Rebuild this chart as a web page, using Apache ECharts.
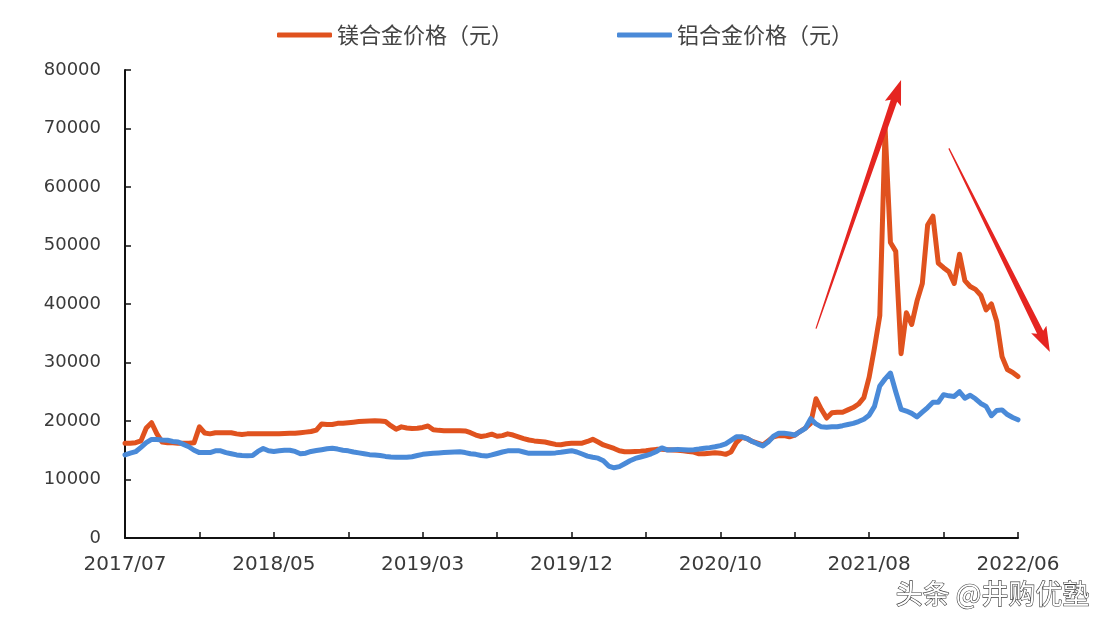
<!DOCTYPE html>
<html>
<head>
<meta charset="utf-8">
<script src="https://cdn.jsdelivr.net/npm/echarts@6/dist/echarts.min.js"></script>
<style>
html,body{margin:0;padding:0;background:#fff;}
#chart{width:1108px;height:624px;}
</style>
</head>
<body>
<div id="chart"></div>
<script>
// Tick labels shown on the x axis (every 28th point; ticks every 14th point)
const tickLabels = ['2017/07','2018/05','2019/03','2019/12','2020/10','2021/08','2022/06'];

// 镁合金价格（元）
const mgPrice = [
16200,16200,16300,16600,18800,19700,17800,16400,16300,16300,
16200,16200,16200,16300,19000,17950,17800,18000,18000,18000,
18000,17800,17700,17800,17800,17800,17800,17800,17800,17800,
17850,17900,17900,18000,18100,18200,18450,19500,19400,19400,
19600,19600,19700,19800,19900,19950,20000,20050,20000,19900,
19200,18600,19000,18800,18700,18750,18900,19150,18500,18400,
18350,18350,18350,18350,18300,18000,17600,17350,17500,17750,
17400,17500,17800,17600,17300,17000,16750,16600,16500,16400,
16200,16000,15950,16100,16180,16200,16200,16500,16870,16400,
15900,15600,15300,14900,14750,14750,14800,14850,14930,15050,
15150,15150,15100,15050,15000,14900,14800,14700,14400,14400,
14500,14580,14500,14300,14700,16300,17200,17000,16500,16200,
15900,16600,17300,17500,17500,17300,17600,18200,18800,19600,
23800,22000,20500,21400,21500,21500,21900,22300,22900,24000,
27500,32500,38000,70000,50500,49000,31500,38500,36500,40500,
43500,53500,55000,47000,46200,45500,43500,48500,44000,43000,
42500,41500,39000,40000,37000,31000,28800,28300,27600
];

// 铝合金价格（元）
const alPrice = [
14200,14500,14750,15500,16300,16850,16850,16750,16700,16500,
16400,16000,15600,15000,14600,14600,14600,14900,14900,14600,
14400,14200,14100,14050,14100,14800,15300,14900,14800,14900,
15000,15000,14800,14400,14500,14800,14950,15100,15250,15330,
15200,15000,14900,14700,14550,14400,14250,14200,14100,13950,
13850,13800,13800,13800,13900,14100,14300,14400,14500,14550,
14600,14650,14700,14750,14600,14400,14300,14100,14000,14200,
14450,14700,14900,14900,14930,14700,14470,14470,14470,14500,
14500,14550,14650,14800,14930,14700,14360,14000,13800,13650,
13200,12300,12000,12200,12700,13200,13600,13850,14100,14400,
14800,15400,15050,15100,15150,15100,15050,15100,15200,15330,
15450,15600,15800,16100,16700,17300,17320,17000,16500,16100,
15750,16400,17400,17900,17900,17800,17600,18200,18750,20400,
19500,19000,18920,19000,19030,19200,19400,19600,19900,20300,
21000,22500,26000,27200,28200,25000,22000,21700,21300,20700,
21500,22300,23200,23200,24500,24300,24200,25000,23900,24400,
23800,23000,22500,20900,21800,21900,21100,20600,20200
];

const seriesNames = ['镁合金价格（元）', '铝合金价格（元）'];
const yTicks = { min: 0, max: 80000, interval: 10000 };

// Annotation arrows in data coordinates [category index, value]
const arrowUp = [[129.5, 35800], [145.8, 78300]];
const arrowDown = [[154.6, 66600], [174.0, 31800]];

const pointsPerLabel = 28;
const pointsPerTick = 14;
const categories = mgPrice.map((_, i) =>
  i % pointsPerLabel === 0 ? tickLabels[i / pointsPerLabel] : 'p' + i);

const chart = echarts.init(document.getElementById('chart'), null, { renderer: 'canvas' });

const axisFont = 'DejaVu Sans';
const legendText = { fontFamily: 'Noto Sans CJK SC', fontSize: 22, color: '#444444' };
const option = {
  backgroundColor: '#ffffff',
  animation: false,
  grid: { left: 125, right: 90, top: 70, bottom: 86 },
  legend: [
    {
      data: [seriesNames[0]], left: 277, top: 24, padding: 0,
      itemWidth: 55, itemHeight: 5, icon: 'roundRect', itemGap: 5,
      textStyle: legendText
    },
    {
      data: [seriesNames[1]], left: 617, top: 24, padding: 0,
      itemWidth: 55, itemHeight: 5, icon: 'roundRect', itemGap: 5,
      textStyle: legendText
    }
  ],
  xAxis: {
    type: 'category',
    data: categories,
    boundaryGap: false,
    axisLine: { lineStyle: { color: '#111', width: 2 } },
    axisTick: { inside: true, length: 6, interval: (i) => i % pointsPerTick === 0, lineStyle: { color: '#111', width: 1.5 } },
    axisLabel: {
      interval: (i) => i % pointsPerLabel === 0,
      margin: 17, color: '#3a3a3a', fontFamily: axisFont, fontSize: 20
    },
    splitLine: { show: false }
  },
  yAxis: {
    type: 'value',
    min: yTicks.min, max: yTicks.max, interval: yTicks.interval,
    axisLine: { show: true, lineStyle: { color: '#111', width: 2 } },
    axisTick: { show: true, inside: true, length: 6, lineStyle: { color: '#111', width: 1.5 } },
    axisLabel: { margin: 24, color: '#3a3a3a', fontFamily: axisFont, fontSize: 18,
                 formatter: (v) => String(v) },
    splitLine: { show: false }
  },
  series: [
    {
      name: seriesNames[0], type: 'line', data: mgPrice,
      symbol: 'none', smooth: false,
      lineStyle: { color: '#E0521E', width: 5, join: 'round', cap: 'round' },
      itemStyle: { color: '#E0521E' }
    },
    {
      name: seriesNames[1], type: 'line', data: alPrice,
      symbol: 'none', smooth: false,
      lineStyle: { color: '#4A8AD8', width: 5, join: 'round', cap: 'round' },
      itemStyle: { color: '#4A8AD8' }
    }
  ]
};
chart.setOption(option);

function arrowPolygon(a, b, w0, w1, headLen, headHalf) {
  const p0 = chart.convertToPixel({ gridIndex: 0 }, a);
  const p1 = chart.convertToPixel({ gridIndex: 0 }, b);
  const dx = p1[0] - p0[0], dy = p1[1] - p0[1];
  const len = Math.hypot(dx, dy);
  const ux = dx / len, uy = dy / len;
  const nx = -uy, ny = ux;
  const bx = p1[0] - ux * headLen, by = p1[1] - uy * headLen;
  return [
    [p0[0] + nx * w0, p0[1] + ny * w0],
    [bx + nx * w1, by + ny * w1],
    [bx - ux * 3 + nx * headHalf, by - uy * 3 + ny * headHalf],
    [p1[0], p1[1]],
    [bx - ux * 3 - nx * headHalf, by - uy * 3 - ny * headHalf],
    [bx - nx * w1, by - ny * w1],
    [p0[0] - nx * w0, p0[1] - ny * w0]
  ];
}

chart.setOption({
  graphic: [
    { type: 'polygon', shape: { points: arrowPolygon(arrowUp[0], arrowUp[1], 0.6, 3.4, 22, 8.5) },
      style: { fill: '#E52521' }, z: 100 },
    { type: 'polygon', shape: { points: arrowPolygon(arrowDown[0], arrowDown[1], 0.6, 3.4, 22, 8.5) },
      style: { fill: '#E52521' }, z: 100 },
    { type: 'text', right: 18, top: 580, z: 100,
      style: { text: '头条 @井购优塾', fontFamily: 'Noto Sans CJK SC', fontSize: 27,
               fill: '#ffffff', stroke: '#3a3a3a', lineWidth: 1.2 } }
  ]
});
</script>
</body>
</html>
